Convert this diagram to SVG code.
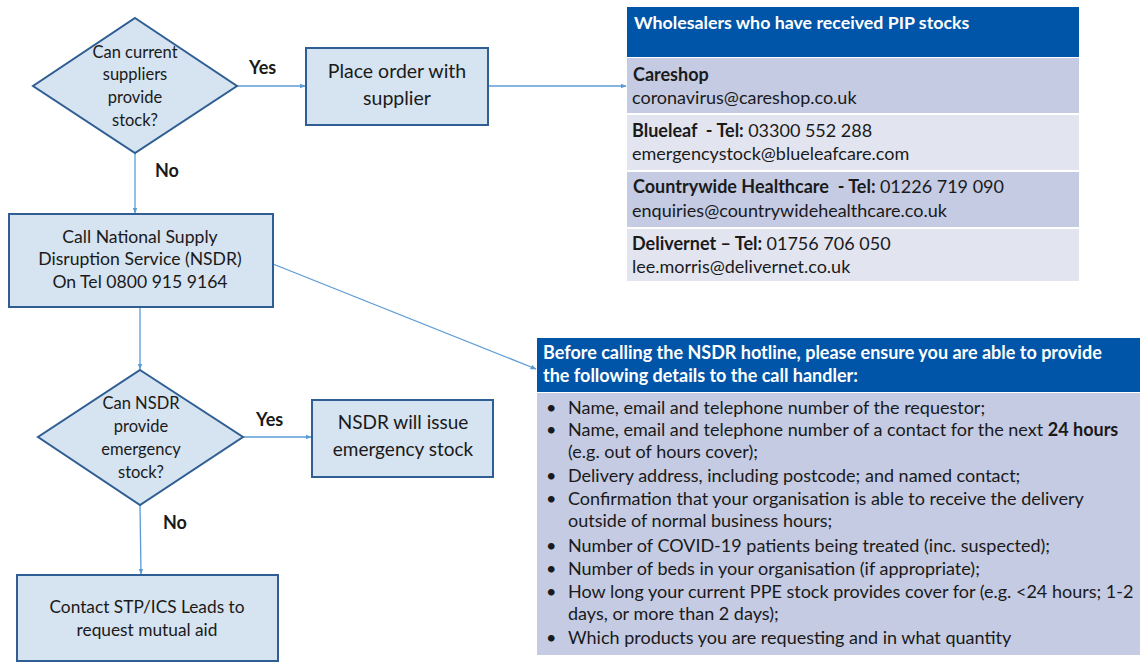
<svg xmlns="http://www.w3.org/2000/svg" width="1140" height="662" viewBox="0 0 1140 662">
<defs>
<style>
.node{fill:#d6e3f0;stroke:#2e5e93;stroke-width:2}
.t{font-family:Lato,"Liberation Sans",sans-serif;fill:#1a1a1a}
.c{text-anchor:middle}
.b{font-weight:bold}
.con{stroke:#5b9bd5;stroke-width:1.3;fill:none;marker-end:url(#ah)}
.hdr{fill:#0055a8}
.rd{fill:#c4cbe3}
.rl{fill:#e2e5f0}
.w{fill:#ffffff}
</style>
<marker id="ah" viewBox="0 0 10 10" refX="9" refY="5" markerWidth="6" markerHeight="6" orient="auto" markerUnits="userSpaceOnUse">
<path d="M0,1 L10,5 L0,9 z" fill="#5b9bd5"/>
</marker>
</defs>
<rect width="1140" height="662" fill="#ffffff"/>

<g id="connectors">
<line class="con" x1="237" y1="86" x2="305" y2="86"/>
<line class="con" x1="135" y1="153" x2="135" y2="213"/>
<line class="con" x1="488" y1="86" x2="626" y2="86"/>
<line class="con" x1="140" y1="307" x2="140" y2="369"/>
<line class="con" x1="273" y1="264" x2="536" y2="369"/>
<line class="con" x1="243" y1="437" x2="311" y2="437"/>
<line class="con" x1="140" y1="505" x2="141" y2="574"/>
<text class="t b" x="249" y="74" font-size="18">Yes</text>
<text class="t b" x="155" y="177" font-size="18">No</text>
<text class="t b" x="256" y="426" font-size="18">Yes</text>
<text class="t b" x="163" y="529" font-size="18">No</text>
</g>

<g id="d1">
<polygon class="node" points="135,18 237,86 135,153 33,86"/>
<text class="t c" font-size="16.5" x="135" y="58">Can current</text>
<text class="t c" font-size="16.5" x="135" y="80">suppliers</text>
<text class="t c" font-size="16.5" x="135" y="103">provide</text>
<text class="t c" font-size="16.5" x="135" y="126">stock?</text>
</g>

<g id="place">
<rect class="node" x="306" y="48" width="182" height="77"/>
<text class="t c" font-size="19.5" x="397" y="78">Place order with</text>
<text class="t c" font-size="19.5" x="397" y="105">supplier</text>
</g>

<g id="wholesalers">
<rect class="hdr" x="627" y="7" width="452" height="50"/>
<text class="t b" x="634" y="29" font-size="17.8" style="fill:#ffffff">Wholesalers who have received PIP stocks</text>
<rect class="rd" x="627" y="58" width="452" height="55"/>
<rect class="rl" x="627" y="115" width="452" height="55"/>
<rect class="rd" x="627" y="172" width="452" height="55"/>
<rect class="rl" x="627" y="229" width="452" height="52"/>
<text class="t" font-size="18" x="633" y="81"><tspan font-weight="bold">Careshop</tspan></text>
<text class="t" font-size="18" x="632" y="104">coronavirus@careshop.co.uk</text>
<text class="t" font-size="18" x="632" y="137"><tspan font-weight="bold">Blueleaf &#160;- Tel: </tspan>03300 552 288</text>
<text class="t" font-size="18" x="632" y="160">emergencystock@blueleafcare.com</text>
<text class="t" font-size="18" x="633" y="193"><tspan font-weight="bold">Countrywide Healthcare &#160;- Tel: </tspan>01226 719 090</text>
<text class="t" font-size="18" x="632" y="217">enquiries@countrywidehealthcare.co.uk</text>
<text class="t" font-size="18" x="632" y="250"><tspan font-weight="bold">Delivernet – Tel: </tspan>01756 706 050</text>
<text class="t" font-size="18" x="632" y="273">lee.morris@delivernet.co.uk</text>
</g>

<g id="nsdr">
<rect class="node" x="9" y="214" width="264" height="93"/>
<text class="t c" font-size="17.6" x="140" y="243">Call National Supply</text>
<text class="t c" font-size="17.6" x="140" y="265">Disruption Service (NSDR)</text>
<text class="t c" font-size="17.6" x="140" y="288">On Tel 0800 915 9164</text>
</g>

<g id="d2">
<polygon class="node" points="140,370 243,437 140,505 38,437"/>
<text class="t c" font-size="16.5" x="141" y="409">Can NSDR</text>
<text class="t c" font-size="16.5" x="141" y="432">provide</text>
<text class="t c" font-size="16.5" x="141" y="455">emergency</text>
<text class="t c" font-size="16.5" x="141" y="478">stock?</text>
</g>

<g id="issue">
<rect class="node" x="312" y="400" width="181" height="77"/>
<text class="t c" font-size="19" x="403" y="429">NSDR will issue</text>
<text class="t c" font-size="19" x="403" y="456">emergency stock</text>
</g>

<g id="stp">
<rect class="node" x="17" y="575" width="261" height="86"/>
<text class="t c" font-size="17.3" x="147" y="613">Contact STP/ICS Leads to</text>
<text class="t c" font-size="17.3" x="147" y="636">request mutual aid</text>
</g>

<g id="details">
<rect class="hdr" x="537" y="338" width="603" height="54"/>
<rect class="rd" x="537" y="393" width="603" height="262"/>
<text class="t b" font-size="18" x="543" y="359" style="fill:#ffffff">Before calling the NSDR hotline, please ensure you are able to provide</text>
<text class="t b" font-size="18" x="543" y="382" style="fill:#ffffff">the following details to the call handler:</text>
<g class="t" font-size="18">
<text x="546" y="414">•</text><text x="568" y="414">Name, email and telephone number of the requestor;</text>
<text x="546" y="436">•</text><text x="568" y="436">Name, email and telephone number of a contact for the next <tspan font-weight="bold">24 hours</tspan></text>
<text x="568" y="458">(e.g. out of hours cover);</text>
<text x="546" y="482">•</text><text x="568" y="482">Delivery address, including postcode; and named contact;</text>
<text x="546" y="505">•</text><text x="568" y="505">Confirmation that your organisation is able to receive the delivery</text>
<text x="568" y="527">outside of normal business hours;</text>
<text x="546" y="552">•</text><text x="568" y="552">Number of COVID-19 patients being treated (inc. suspected);</text>
<text x="546" y="575">•</text><text x="568" y="575">Number of beds in your organisation (if appropriate);</text>
<text x="546" y="598">•</text><text x="568" y="598">How long your current PPE stock provides cover for (e.g. &lt;24 hours; 1-2</text>
<text x="568" y="620">days, or more than 2 days);</text>
<text x="546" y="644">•</text><text x="568" y="644">Which products you are requesting and in what quantity</text>
</g>
</g>
</svg>
